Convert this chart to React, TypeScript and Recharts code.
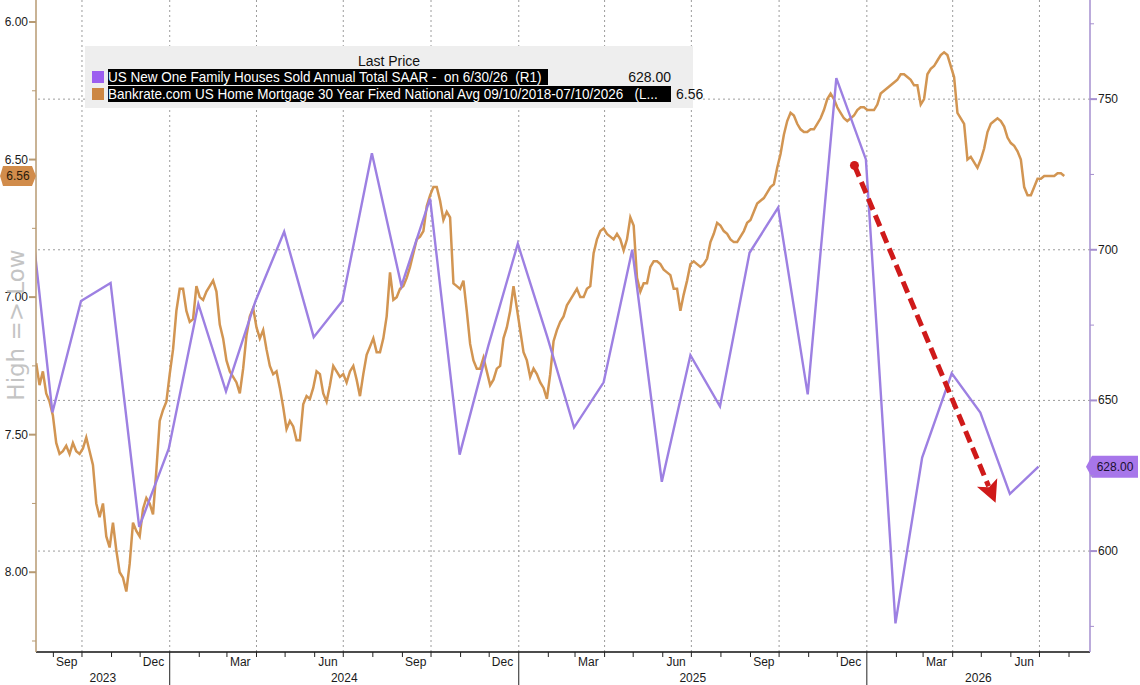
import React from 'react';
import { LineChart, Line, XAxis, YAxis, ReferenceLine, ReferenceDot } from 'recharts';

const DAY = 86400000;

// US New One Family Houses Sold, SAAR (thous.), month-end prints from Jul-2023
const sales2023 = [736, 646, 683, 689, 608, 634];
const sales2024 = [682, 653, 683, 706, 671, 683, 732, 688, 717, 632, 668, 702];
const sales2025 = [671, 641, 656, 700, 623, 665, 648, 699, 714, 652, 757, 730];
const sales2026 = [576, 631, 659, 646, 619, 628];

// Bankrate 30y fixed, read twice a week starting 14-Aug-2023
const rateFirstDay = Date.UTC(2023, 7, 14);
const rateStepDays = 3.5;
const rate2023 = [
  7.24, 7.32, 7.27, 7.35, 7.38, 7.43, 7.53, 7.57, 7.56, 7.54,
  7.57, 7.53, 7.56, 7.57, 7.55, 7.51, 7.56, 7.61, 7.75, 7.80,
  7.75, 7.87, 7.91, 7.82, 7.92, 8.00, 8.02, 8.07, 7.97, 7.82,
  7.85, 7.87, 7.77, 7.73, 7.75, 7.79, 7.63, 7.45, 7.41, 7.38,
];
const rate2024 = [
  7.28, 7.19, 7.05, 6.97, 6.97, 7.05, 7.09, 7.08, 6.96, 7.00,
  7.01, 6.98, 6.96, 6.94, 6.98, 7.10, 7.15, 7.23, 7.27, 7.29,
  7.31, 7.35, 7.26, 7.14, 7.07, 7.04, 7.11, 7.15, 7.12, 7.19,
  7.25, 7.28, 7.27, 7.33, 7.40, 7.48, 7.45, 7.47, 7.52, 7.52,
  7.39, 7.36, 7.37, 7.33, 7.27, 7.28, 7.35, 7.38, 7.32, 7.25,
  7.27, 7.29, 7.28, 7.31, 7.27, 7.25, 7.30, 7.36, 7.28, 7.21,
  7.18, 7.15, 7.20, 7.20, 7.15, 7.07, 6.91, 7.01, 7.00, 6.97,
  6.96, 6.93, 6.89, 6.84, 6.79, 6.78, 6.76, 6.67, 6.63, 6.60,
  6.60, 6.65, 6.72, 6.69, 6.71, 6.95, 6.96, 6.97, 6.94, 7.05,
  7.17, 7.23, 7.26, 7.26, 7.22, 7.27, 7.32, 7.30, 7.26, 7.25,
  7.15, 7.11, 7.05, 6.96, 7.04,
];
const rate2025 = [
  7.12, 7.20, 7.23, 7.29, 7.26,
  7.28, 7.31, 7.33, 7.37, 7.28, 7.16, 7.12, 7.09, 7.07, 7.03,
  7.01, 6.99, 6.97, 7.00, 7.00, 6.97, 6.96, 6.84, 6.79, 6.76,
  6.75, 6.77, 6.78, 6.79, 6.77, 6.79, 6.83, 6.79, 6.71, 6.74,
  6.93, 6.98, 6.95, 6.95, 6.89, 6.87, 6.87, 6.88, 6.90, 6.91,
  6.92, 6.97, 6.97, 7.05, 6.99, 6.94, 6.88, 6.87, 6.88, 6.89,
  6.88, 6.86, 6.80, 6.77, 6.73, 6.74, 6.76, 6.77, 6.79, 6.80,
  6.80, 6.78, 6.76, 6.73, 6.72, 6.69, 6.66, 6.65, 6.64, 6.62,
  6.60, 6.59, 6.53, 6.48, 6.41, 6.36, 6.33, 6.34, 6.37, 6.39,
  6.40, 6.40, 6.39, 6.39, 6.37, 6.35, 6.32, 6.28, 6.26, 6.28,
  6.31, 6.33, 6.35, 6.36, 6.35, 6.34, 6.32, 6.31, 6.31,
];
const rate2026 = [
  6.32, 6.32, 6.32, 6.30, 6.26, 6.25, 6.24, 6.23, 6.22, 6.21, 6.19,
  6.19, 6.20, 6.21, 6.23, 6.23, 6.30, 6.28, 6.19, 6.17, 6.16,
  6.14, 6.12, 6.11, 6.12, 6.16, 6.20, 6.33, 6.35, 6.37, 6.50,
  6.49, 6.51, 6.53, 6.50, 6.46, 6.40, 6.37, 6.36, 6.35, 6.36,
  6.38, 6.42, 6.44, 6.45, 6.47, 6.50, 6.60, 6.63, 6.63, 6.60,
  6.57, 6.57, 6.56, 6.56, 6.56, 6.56, 6.55, 6.55, 6.56,
];

const rateTicks = [6, 6.25, 6.5, 6.75, 7, 7.25, 7.5, 7.75, 8, 8.25];
const salesTicks = [575, 600, 625, 650, 675, 700, 725, 750, 775];
const salesGrid = [600, 650, 700, 750];
const monthNames = ['Jan', 'Feb', 'Mar', 'Apr', 'May', 'Jun', 'Jul', 'Aug', 'Sep', 'Oct', 'Nov', 'Dec'];
const labelledMonths = [2, 5, 8, 11];
const years = [2023, 2024, 2025, 2026];

const xStart = Date.UTC(2023, 7, 13, 19);
const xEnd = Date.UTC(2026, 7, 23);

// red trend annotation (date, sales axis)
const arrowFrom = { x: Date.UTC(2025, 11, 19), y: 728 };
const arrowTo = { x: Date.UTC(2026, 4, 16), y: 616 };

const salesValues = [...sales2023, ...sales2024, ...sales2025, ...sales2026];
const salesData = salesValues.map((v, i) => ({ t: Date.UTC(2023, 7 + i, 0), sales: v }));
const rateValues = [...rate2023, ...rate2024, ...rate2025, ...rate2026];
const rateData = rateValues.map((v, i) => ({ t: rateFirstDay + i * rateStepDays * DAY, rate: v }));

const lastRate = rateValues[rateValues.length - 1];
const lastSales = salesValues[salesValues.length - 1];

// axis ticks: month starts (marks), mid-month labels, year labels
const tickInfo = new Map<number, { kind: string; text?: string; month?: number }>();
const quarterLines: number[] = [];
for (let k = 0; k < 36; k++) {
  const d = new Date(Date.UTC(2023, 8 + k, 1));
  const m = d.getUTCMonth();
  tickInfo.set(d.getTime(), { kind: 'month', month: m });
  if (m % 3 === 0) quarterLines.push(d.getTime());
  if (labelledMonths.includes(m)) {
    tickInfo.set(Date.UTC(d.getUTCFullYear(), m, 15), { kind: 'label', text: monthNames[m] });
  }
}
years.forEach((y) => {
  const a = Math.max(Date.UTC(y, 0, 1), xStart);
  const b = Math.min(Date.UTC(y + 1, 0, 1), xEnd);
  tickInfo.set(Math.round((a + b) / 2), { kind: 'year', text: String(y) });
});
const timeTicks = [...tickInfo.keys()].sort((a, b) => a - b);

const ORANGE = '#d29552';
const PURPLE = '#9d80e2';
const TICK_FONT = '"Liberation Sans", Arial, sans-serif';
const LEGEND_FONT = '"Liberation Sans", Arial, sans-serif';

function TimeTick(props: any) {
  const { x, y, payload } = props;
  const info = tickInfo.get(payload.value);
  if (!info) return null;
  if (info.kind === 'month') {
    return <line x1={x} y1={y} x2={x} y2={y + (info.month === 0 ? 33 : 5)} stroke="#222" strokeWidth={1} />;
  }
  return (
    <text x={x} y={y + (info.kind === 'year' ? 26 : 10)} textAnchor="middle" dominantBaseline="central"
      fontFamily={TICK_FONT} fontSize={12} fill="#1a1a1a">
      {info.text}
    </text>
  );
}

function RateTick(props: any) {
  const { x, y, payload } = props;
  const major = Number.isInteger(payload.value * 2);
  return (
    <g>
      <line x1={x - (major ? 7 : 4)} y1={y} x2={x} y2={y} stroke="#b79a72" strokeWidth={major ? 2 : 1} />
      {major && (
        <text x={x - 8} y={y} textAnchor="end" dominantBaseline="central" fontFamily={TICK_FONT} fontSize={12} fill="#1a1a1a">
          {payload.value.toFixed(2)}
        </text>
      )}
    </g>
  );
}

function SalesTick(props: any) {
  const { x, y, payload } = props;
  const major = payload.value % 50 === 0;
  return (
    <g>
      <line x1={x} y1={y} x2={x + (major ? 7 : 4)} y2={y} stroke="#a58fcf" strokeWidth={major ? 2 : 1} />
      {major && (
        <text x={x + 8} y={y} textAnchor="start" dominantBaseline="central" fontFamily={TICK_FONT} fontSize={12} fill="#1a1a1a">
          {payload.value}
        </text>
      )}
    </g>
  );
}

function RateTag(props: any) {
  const { cx, cy } = props;
  return (
    <g>
      <polygon points={`${cx - 36},${cy} ${cx - 33},${cy - 10} ${cx - 4},${cy - 10} ${cx},${cy} ${cx - 4},${cy + 10} ${cx - 33},${cy + 10}`}
        fill="#d18c4b" />
      <text x={cx - 18} y={cy} textAnchor="middle" dominantBaseline="central" fontFamily={TICK_FONT} fontSize={12} fill="#2a1a0a">
        {lastRate.toFixed(2)}
      </text>
    </g>
  );
}

function SalesTag(props: any) {
  const { cx, cy } = props;
  return (
    <g>
      <polygon points={`${cx - 4},${cy} ${cx + 2},${cy - 11} ${cx + 48},${cy - 11} ${cx + 48},${cy + 11} ${cx + 2},${cy + 11}`}
        fill="#a776ea" />
      <text x={cx + 25} y={cy} textAnchor="middle" dominantBaseline="central" fontFamily={TICK_FONT} fontSize={12} fill="#1a1030">
        {lastSales.toFixed(2)}
      </text>
    </g>
  );
}

function TrendArrow(props: any) {
  const { x1, y1, x2, y2 } = props;
  const a = Math.atan2(y2 - y1, x2 - x1);
  const len = 22;
  const half = 11;
  const bx = x2 - len * Math.cos(a);
  const by = y2 - len * Math.sin(a);
  const nx = -Math.sin(a) * half;
  const ny = Math.cos(a) * half;
  return (
    <g>
      <line x1={x1} y1={y1} x2={bx + 4 * Math.cos(a)} y2={by + 4 * Math.sin(a)} stroke="#cf1a1a" strokeWidth={5} strokeDasharray="12 6" />
      <polygon points={`${x2},${y2} ${bx + nx},${by + ny} ${bx + 5 * Math.cos(a)},${by + 5 * Math.sin(a)} ${bx - nx},${by - ny}`}
        fill="#cf1a1a" />
    </g>
  );
}

const condensed: React.CSSProperties = {
  display: 'inline-block', transform: 'scaleX(0.9)', transformOrigin: 'left center', whiteSpace: 'pre',
};

export default function App() {
  return (
    <div style={{ position: 'absolute', left: 0, top: 0, width: 1140, height: 685, background: '#fff', overflow: 'hidden' }}>
      <LineChart width={1140} height={685} margin={{ top: 0, right: 0, bottom: 0, left: 0 }}>
        <XAxis dataKey="t" type="number" domain={[xStart, xEnd]} allowDataOverflow ticks={timeTicks} interval={0}
          height={33} tickSize={0} tickMargin={0} tickLine={false} tick={<TimeTick />}
          axisLine={{ stroke: '#111', strokeWidth: 1.5 }} />
        <YAxis yAxisId="rate" orientation="left" reversed domain={[5.92, 8.29]} allowDataOverflow ticks={rateTicks}
          interval={0} width={36} tickSize={0} tickMargin={0} tickLine={false} tick={<RateTick />}
          axisLine={{ stroke: '#b79a72', strokeWidth: 1.5 }} />
        <YAxis yAxisId="sales" orientation="right" domain={[566.5, 782.9]} allowDataOverflow ticks={salesTicks}
          interval={0} width={50} tickSize={0} tickMargin={0} tickLine={false} tick={<SalesTick />}
          axisLine={{ stroke: '#a58fcf', strokeWidth: 1.5 }} />

        {salesGrid.map((v) => (
          <ReferenceLine key={`h${v}`} yAxisId="sales" y={v} stroke="#9c9c9c" strokeDasharray="2 3" />
        ))}
        {quarterLines.map((q) => (
          <ReferenceLine key={`v${q}`} yAxisId="sales" x={q} stroke="#9c9c9c" strokeDasharray="2 3" />
        ))}

        <Line yAxisId="rate" data={rateData} dataKey="rate" type="linear" stroke={ORANGE} strokeWidth={2.5}
          dot={false} activeDot={false} isAnimationActive={false} />
        <Line yAxisId="sales" data={salesData} dataKey="sales" type="linear" stroke={PURPLE} strokeWidth={2.4}
          dot={false} activeDot={false} isAnimationActive={false} />

        <ReferenceLine yAxisId="sales" segment={[arrowFrom, arrowTo]} ifOverflow="visible" shape={TrendArrow} />
        <ReferenceDot yAxisId="sales" x={arrowFrom.x} y={arrowFrom.y} r={4.5} fill="#cf1a1a" stroke="none" ifOverflow="visible" />
        <ReferenceDot yAxisId="rate" x={xStart} y={lastRate} r={0} ifOverflow="visible" shape={RateTag} />
        <ReferenceDot yAxisId="sales" x={xEnd} y={lastSales} r={0} ifOverflow="visible" shape={SalesTag} />
      </LineChart>

      <div style={{
        position: 'absolute', left: 16, top: 325, transform: 'translate(-50%, -50%) rotate(-90deg)',
        fontFamily: '"DejaVu Sans", sans-serif', fontSize: 23, color: '#c4c4c4', whiteSpace: 'nowrap',
      }}>
        High =&gt; Low
      </div>

      <div style={{
        position: 'absolute', left: 85, top: 46, width: 608, height: 62, background: '#eeeeee',
        fontFamily: LEGEND_FONT, fontSize: 14, color: '#111',
      }}>
        <div style={{ position: 'absolute', left: 0, width: 608, top: 7, textAlign: 'center', lineHeight: '16px' }}>Last Price</div>
        <div style={{ position: 'absolute', left: 7, top: 25, width: 12, height: 12, background: '#9c5ff0' }} />
        <div style={{
          position: 'absolute', left: 23, top: 23, width: 440, height: 16, background: '#000', color: '#fff',
          overflow: 'hidden', lineHeight: '16px', fontSize: 15,
        }}>
          <span style={condensed}>{'US New One Family Houses Sold Annual Total SAAR -  on 6/30/26  (R1)'}</span>
        </div>
        <div style={{ position: 'absolute', right: 22, top: 23, lineHeight: '16px' }}>628.00</div>
        <div style={{ position: 'absolute', left: 7, top: 42, width: 12, height: 12, background: '#cc8744' }} />
        <div style={{
          position: 'absolute', left: 23, top: 40, width: 563, height: 16, background: '#000', color: '#fff',
          overflow: 'hidden', lineHeight: '16px', fontSize: 15,
        }}>
          <span style={condensed}>{'Bankrate.com US Home Mortgage 30 Year Fixed National Avg 09/10/2018-07/10/2026   (L...'}</span>
        </div>
        <div style={{ position: 'absolute', left: 591, top: 40, lineHeight: '16px' }}>6.56</div>
      </div>
    </div>
  );
}
